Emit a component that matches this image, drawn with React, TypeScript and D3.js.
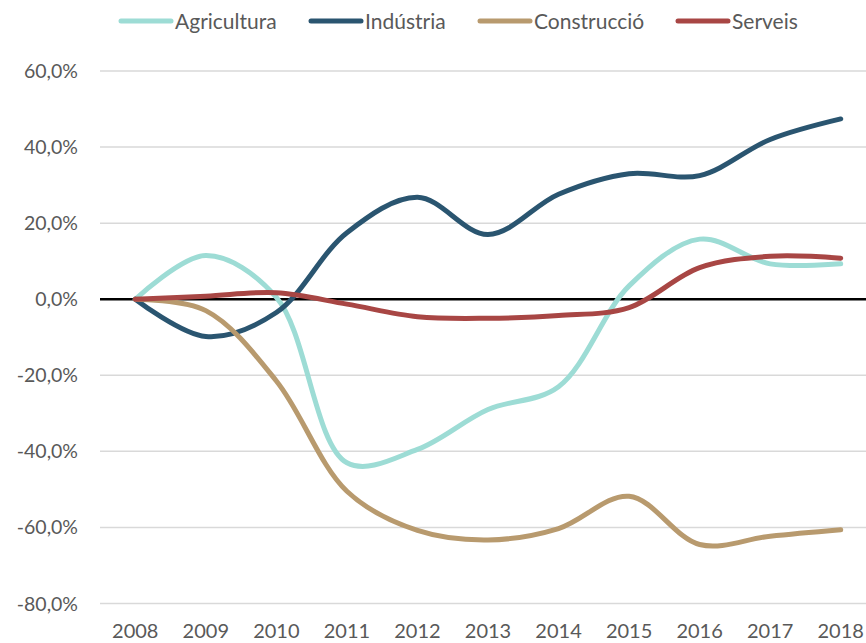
import React, { useEffect, useRef } from 'react'
import * as d3 from 'd3'

const years = ['2008', '2009', '2010', '2011', '2012', '2013', '2014', '2015', '2016', '2017', '2018']

const agricultura = [0, 11.5, 0.5, -43, -39.5, -29, -23, 3.5, 15.8, 9.3, 9.3]
const industria = [0, -9.8, -3.5, 17.5, 26.8, 17, 27.6, 33, 32.5, 42, 47.4]
const construccio = [0, -3, -21.5, -50.5, -60.8, -63.3, -60.3, -51.8, -64.5, -62.3, -60.6]
const serveis = [0, 0.8, 1.7, -1.3, -4.6, -5, -4.3, -2.2, 8.3, 11.3, 10.8]

const yTicks = [60, 40, 20, 0, -20, -40, -60, -80]

const seriesNames = ['Agricultura', 'Indústria', 'Construcció', 'Serveis']
const seriesColors = ['#9ddcd5', '#2a5570', '#b89a6e', '#a84644']

const font = 'Lato, "Open Sans", sans-serif'

export default function App() {
  const ref = useRef<SVGSVGElement>(null)

  useEffect(() => {
    const svg = d3.select(ref.current)
    svg.selectAll('*').remove()

    const left = 100, right = 876, top = 71, bottom = 603.5
    const series = [agricultura, industria, construccio, serveis]

    const x = d3.scaleBand().domain(years).range([left, right])
    const y = d3.scaleLinear().domain([-80, 60]).range([bottom, top])
    const cx = (i: number) => (x(years[i]) as number) + x.bandwidth() / 2

    // gridlines
    svg.append('g')
      .selectAll('line')
      .data(yTicks.filter(d => d !== 0))
      .enter()
      .append('line')
        .attr('x1', left)
        .attr('x2', 866)
        .attr('y1', d => y(d))
        .attr('y2', d => y(d))
        .attr('stroke', '#d9d9d9')
        .attr('stroke-width', 1.5)

    // y labels
    svg.append('g')
      .selectAll('text')
      .data(yTicks)
      .enter()
      .append('text')
        .attr('x', 78)
        .attr('y', d => y(d) + 7)
        .attr('text-anchor', 'end')
        .attr('font-family', font)
        .attr('font-size', 19.5)
        .attr('fill', '#595959')
        .text(d => d3.format('.1f')(d).replace('.', ',').replace('−', '-') + '%')

    // x labels
    svg.append('g')
      .selectAll('text')
      .data(years)
      .enter()
      .append('text')
        .attr('x', (d, i) => cx(i))
        .attr('y', 638)
        .attr('text-anchor', 'middle')
        .attr('font-family', font)
        .attr('font-size', 20)
        .attr('fill', '#595959')
        .text(d => d)

    // zero line
    svg.append('line')
      .attr('x1', left)
      .attr('x2', 866)
      .attr('y1', y(0))
      .attr('y2', y(0))
      .attr('stroke', '#000')
      .attr('stroke-width', 2.5)

    const line = d3.line<number>()
      .x((d, i) => cx(i))
      .y(d => y(d))
      .curve(d3.curveCatmullRom.alpha(0.5))

    svg.append('g')
      .selectAll('path')
      .data(series)
      .enter()
      .append('path')
        .attr('d', d => line(d))
        .attr('fill', 'none')
        .attr('stroke', (d, i) => seriesColors[i])
        .attr('stroke-width', 5)
        .attr('stroke-linecap', 'round')

    // legend
    const legendX = [119, 309, 478, 676]
    const lg = svg.append('g')
    seriesNames.forEach((name, i) => {
      lg.append('line')
        .attr('x1', legendX[i] + 2)
        .attr('x2', legendX[i] + 52)
        .attr('y1', 21)
        .attr('y2', 21)
        .attr('stroke', seriesColors[i])
        .attr('stroke-width', 5)
        .attr('stroke-linecap', 'round')
      lg.append('text')
        .attr('x', legendX[i] + 56)
        .attr('y', 28.5)
        .attr('font-family', font)
        .attr('font-size', 21)
        .attr('fill', '#595959')
        .text(name)
    })
  }, [])

  return (
    <svg
      ref={ref}
      width={866}
      height={643}
      style={{ position: 'absolute', left: 0, top: 0, background: '#fff' }}
    />
  )
}
